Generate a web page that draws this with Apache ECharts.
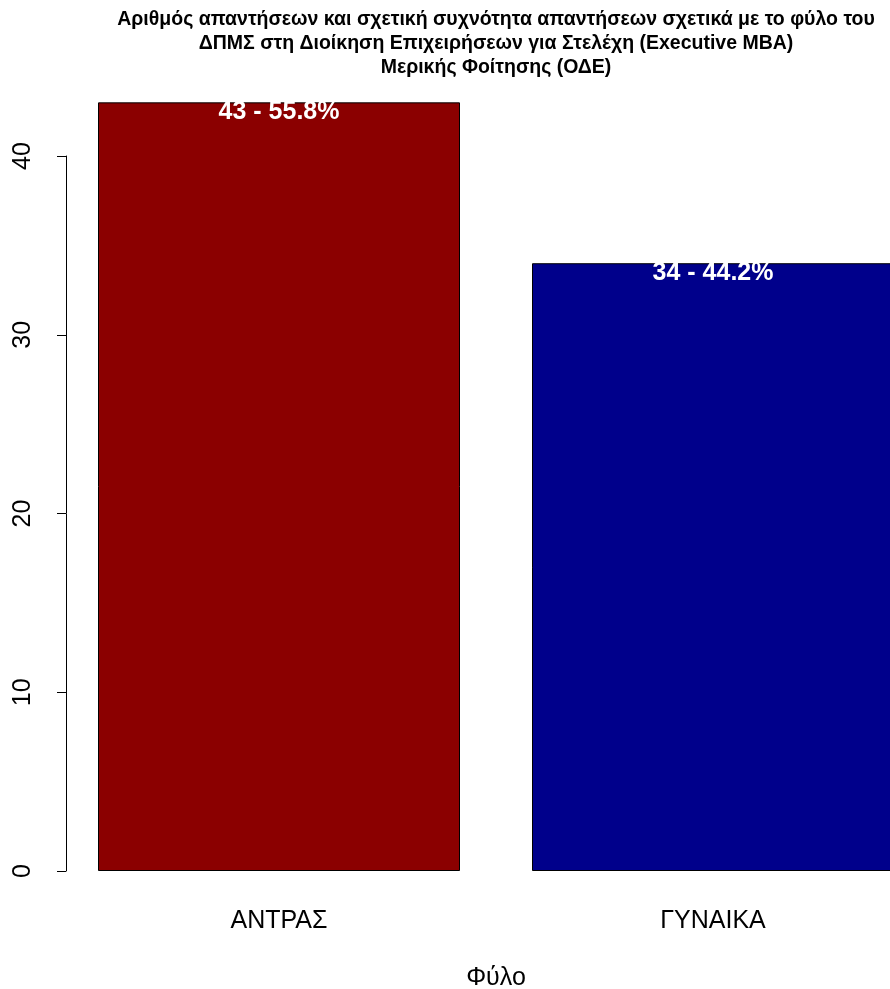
<!DOCTYPE html>
<html><head><meta charset="utf-8">
<script src="https://cdn.jsdelivr.net/npm/echarts@6/dist/echarts.min.js"></script>
<style>html,body{margin:0;padding:0;background:#fff}#c{width:890px;height:989px}</style>
</head><body><div id="c"></div>
<script>
const titleLines = ['Αριθμός απαντήσεων και σχετική συχνότητα απαντήσεων σχετικά με το φύλο του','ΔΠΜΣ στη Διοίκηση Επιχειρήσεων για Στελέχη (Executive MBA)','Μερικής Φοίτησης (ΟΔΕ)'];
const categories = ['ΑΝΤΡΑΣ', 'ΓΥΝΑΙΚΑ'];
const counts = [43, 34];
const percents = ['55.8%', '44.2%'];
const barColors = ['#8B0000', '#00008B'];
const yTicks = [0, 10, 20, 30, 40];
const xTitle = 'Φύλο';

const chart = echarts.init(document.getElementById('c'), null, {renderer: 'canvas'});
const F = '"Liberation Sans", Arial, sans-serif';
chart.setOption({
  animation: false,
  backgroundColor: '#fff',
  title: {
    text: titleLines.join('\n'),
    left: 491, top: 3, textAlign: 'center',
    textStyle: {fontFamily: F, fontSize: 19.5, fontWeight: 'bold', color: '#000', lineHeight: 24}
  },
  grid: [
    {left: 62, width: 868, top: 71.6, height: 830.15, outerBoundsMode: 'none', containLabel: false},
    {left: 66, width: 860, top: 156, height: 715, outerBoundsMode: 'none', containLabel: false}
  ],
  xAxis: [
    {gridIndex: 0, type: 'category', data: categories,
     axisLine: {show: false}, axisTick: {show: false},
     axisLabel: {margin: 7, fontFamily: F, fontSize: 25, color: '#000'},
     name: xTitle, nameLocation: 'middle', nameGap: 64,
     nameTextStyle: {fontFamily: F, fontSize: 25, color: '#000'}},
    {gridIndex: 1, type: 'value', show: false}
  ],
  yAxis: [
    {gridIndex: 0, type: 'value', min: -0.04 * Math.max(...counts), max: 1.04 * Math.max(...counts), show: false},
    {gridIndex: 1, type: 'value', min: yTicks[0], max: yTicks[yTicks.length - 1], interval: 10,
     splitLine: {show: false},
     axisLine: {show: true, lineStyle: {color: '#000', width: 1}},
     axisTick: {show: true, length: 9, lineStyle: {color: '#000', width: 1}},
     axisLabel: {rotate: 90, margin: 30, fontFamily: F, fontSize: 25, color: '#000'}}
  ],
  series: [{
    type: 'bar', xAxisIndex: 0, yAxisIndex: 0,
    barWidth: 362,
    data: counts.map((v, i) => ({value: v, itemStyle: {color: barColors[i]}})),
    itemStyle: {borderColor: '#000', borderWidth: 1},
    label: {show: true, position: 'insideTop', distance: -3,
      formatter: p => counts[p.dataIndex] + ' - ' + percents[p.dataIndex],
      fontFamily: F, fontSize: 25, fontWeight: 'bold', color: '#fff'}
  }]
});
</script></body></html>
